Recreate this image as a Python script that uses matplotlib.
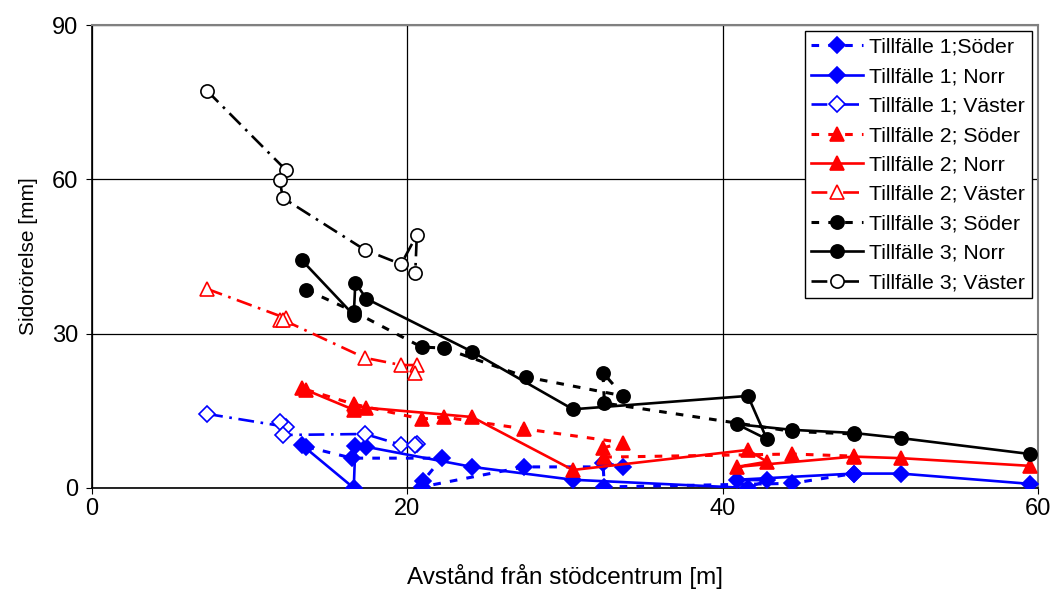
import matplotlib
matplotlib.use("Agg")
import matplotlib.pyplot as plt

plt.rcParams['font.family'] = ['Liberation Sans', 'DejaVu Sans']

# Tillfälle 1
t1_soder_x = [13.6, 16.5, 22.2, 21.0, 20.9, 27.4, 33.7, 32.4, 32.5, 44.4, 48.3]
t1_soder_y = [8.0, 5.8, 5.8, 1.4, 0.2, 4.1, 4.1, 4.9, 0.2, 0.9, 2.8]
t1_norr_x = [13.3, 16.6, 16.7, 17.4, 24.1, 30.5, 41.6, 42.8, 40.9, 48.3, 51.3, 59.5]
t1_norr_y = [8.4, 0.0, 8.2, 8.0, 4.1, 1.6, 0.0, 1.5, 1.6, 2.8, 2.8, 0.8]
t1_vast_x = [7.3, 12.3, 11.9, 12.1, 17.3, 19.6, 20.6, 20.5]
t1_vast_y = [14.4, 11.9, 12.8, 10.3, 10.5, 8.4, 8.5, 8.4]

# Tillfälle 2
t2_soder_x = [13.6, 16.6, 20.9, 22.3, 27.4, 33.7, 32.4, 32.5, 44.4, 48.3]
t2_soder_y = [19.1, 16.3, 13.4, 13.8, 11.5, 8.8, 7.8, 6.0, 6.6, 6.2]
t2_norr_x = [13.3, 16.6, 16.7, 17.4, 24.1, 30.5, 41.6, 42.8, 40.9, 48.3, 51.3, 59.5]
t2_norr_y = [19.4, 15.2, 16.0, 15.6, 13.8, 3.5, 7.4, 5.1, 4.1, 6.1, 5.8, 4.3]
t2_vast_x = [7.3, 12.3, 11.9, 12.1, 17.3, 19.6, 20.6, 20.5]
t2_vast_y = [38.7, 33.0, 32.7, 32.7, 25.3, 23.9, 23.9, 22.4]

# Tillfälle 3
t3_soder_x = [13.6, 16.6, 20.9, 22.3, 27.5, 33.7, 32.4, 32.5, 44.4, 48.3]
t3_soder_y = [38.5, 34.3, 27.4, 27.2, 21.6, 17.9, 22.4, 16.5, 11.0, 10.5]
t3_norr_x = [13.3, 16.6, 16.7, 17.4, 24.1, 30.5, 41.6, 42.8, 40.9, 44.4, 48.3, 51.3, 59.5]
t3_norr_y = [44.3, 33.6, 39.9, 36.8, 26.5, 15.3, 17.9, 9.5, 12.4, 11.3, 10.7, 9.7, 6.6]
t3_vast_x = [7.3, 12.3, 11.9, 12.1, 17.3, 19.6, 20.6, 20.5]
t3_vast_y = [77.2, 61.8, 59.9, 56.4, 46.3, 43.5, 49.2, 41.8]

soder_ls = (0, (2.5, 3))
vast_ls = (0, (6, 2.5, 1, 2.5))

fig = plt.figure(figsize=(10.53, 5.9), dpi=100)
ax = fig.add_axes([0.0874, 0.1729, 0.8984, 0.7847])

series = [
    (t1_soder_x, t1_soder_y, 'blue', 'D', soder_ls, True, "Tillfälle 1;Söder"),
    (t1_norr_x, t1_norr_y, 'blue', 'D', '-', True, "Tillfälle 1; Norr"),
    (t1_vast_x, t1_vast_y, 'blue', 'D', vast_ls, False, "Tillfälle 1; Väster"),
    (t2_soder_x, t2_soder_y, 'red', '^', soder_ls, True, "Tillfälle 2; Söder"),
    (t2_norr_x, t2_norr_y, 'red', '^', '-', True, "Tillfälle 2; Norr"),
    (t2_vast_x, t2_vast_y, 'red', '^', vast_ls, False, "Tillfälle 2; Väster"),
    (t3_soder_x, t3_soder_y, 'black', 'o', soder_ls, True, "Tillfälle 3; Söder"),
    (t3_norr_x, t3_norr_y, 'black', 'o', '-', True, "Tillfälle 3; Norr"),
    (t3_vast_x, t3_vast_y, 'black', 'o', vast_ls, False, "Tillfälle 3; Väster"),
]

msize = {'D': 8.5, '^': 9.5, 'o': 9.5}
for x, y, c, m, ls, filled, lab in series:
    lw = 2.2 if ls is soder_ls else 1.9
    ax.plot(x, y, color=c, linestyle=ls, linewidth=lw, marker=m,
            markersize=msize[m], markerfacecolor=c if filled else 'white',
            markeredgecolor=c, markeredgewidth=1.2, label=lab, zorder=3)

ax.set_xlim(0, 60)
ax.set_ylim(0, 90)
ax.set_xticks([0, 20, 40, 60])
ax.set_yticks([0, 30, 60, 90])
ax.grid(True, color='black', linewidth=0.9)
ax.set_axisbelow(True)
ax.tick_params(labelsize=17, direction='out', length=4, color='black')
ax.tick_params(axis='x', pad=3)
ax.tick_params(axis='y', pad=6)
for s in ['top', 'right']:
    ax.spines[s].set_color('#808080')
    ax.spines[s].set_linewidth(1.5)
for s in ['left', 'bottom']:
    ax.spines[s].set_color('black')
    ax.spines[s].set_linewidth(1.2)

ax.set_xlabel("Avstånd från stödcentrum [m]", fontsize=17.5, labelpad=32)
ax.set_ylabel("Sidorörelse [mm]", fontsize=15, labelpad=10)

leg = ax.legend(loc='upper right', fontsize=15.3, frameon=True, fancybox=False,
                edgecolor='black', framealpha=1, handlelength=2.45,
                handletextpad=0.28, labelspacing=0.49, borderpad=0.3,
                borderaxespad=0.3)
leg.get_frame().set_linewidth(1.0)

fig.savefig("out.png", dpi=100)
